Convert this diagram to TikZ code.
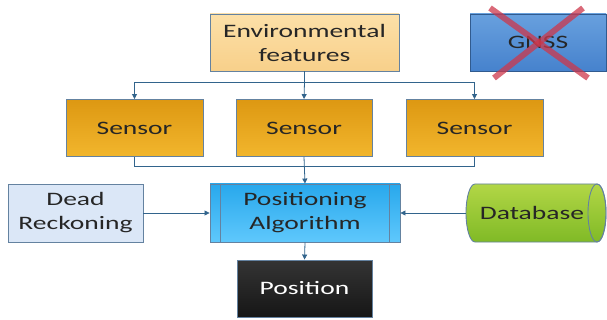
\documentclass[tikz,border=0pt]{standalone}
\usepackage{fontspec}
\setmainfont{Carlito}[FakeStretch=1.45]
\usetikzlibrary{arrows.meta}
\definecolor{lnk}{RGB}{50,100,140}
\definecolor{bdr}{RGB}{100,130,160}
\definecolor{envT}{RGB}{252,224,168}
\definecolor{envB}{RGB}{248,208,138}
\definecolor{senT}{RGB}{221,152,18}
\definecolor{senB}{RGB}{242,182,45}
\definecolor{gnT}{RGB}{104,160,222}
\definecolor{gnB}{RGB}{70,130,205}
\definecolor{paT}{RGB}{40,168,236}
\definecolor{paB}{RGB}{95,200,252}
\definecolor{drF}{RGB}{219,231,247}
\definecolor{dbT}{RGB}{178,214,70}
\definecolor{dbB}{RGB}{128,186,38}
\definecolor{posT}{RGB}{52,52,52}
\definecolor{posB}{RGB}{22,22,22}
\definecolor{xred}{RGB}{205,55,75}
\begin{document}
\begin{tikzpicture}[x=1pt,y=-1pt,
  every node/.style={font=\fontsize{19}{24}\selectfont, align=center, inner sep=0pt, text=black!85},
  box/.style={draw=bdr, line width=0.9pt, minimum width=#1, minimum height=57},
  arr/.style={draw=lnk, line width=0.8pt, -{Triangle[length=5pt,width=5pt]}},
  ln/.style={draw=lnk, line width=0.8pt}]
\useasboundingbox (0,0) rectangle (607,320);
% database cylinder body
\path[draw=bdr, line width=0.9pt, top color=dbT, bottom color=dbB]
  (475,184) -- (597,184) arc[start angle=-90, end angle=90, x radius=9, y radius=29]
  -- (475,242) arc[start angle=90, end angle=270, x radius=9, y radius=29] -- cycle;
\draw[bdr, line width=0.9pt] (597,213) ellipse[x radius=9, y radius=29];
% nodes
\node[box=189, top color=envT, bottom color=envB] (env) at (304.5,42.5) {Environmental\\features};
\node[box=136, draw=gnB!70!black, top color=gnT, bottom color=gnB] (gnss) at (538,42.5) {GNSS};
\node[box=137, top color=senT, bottom color=senB] (s1) at (134.5,128) {Sensor};
\node[box=136, top color=senT, bottom color=senB] (s2) at (304,128) {Sensor};
\node[box=137, top color=senT, bottom color=senB] (s3) at (474.5,128) {Sensor};
\node[box=190, minimum height=58, top color=paT, bottom color=paB] (pa) at (305,213) {Positioning\\Algorithm};
\node[box=135, minimum height=58, fill=drF] (dr) at (75.5,213) {Dead\\Reckoning};
\node[minimum width=132, minimum height=58] (db) at (532,213) {Database};
\node[box=135, draw=bdr, top color=posT, bottom color=posB, text=white] (pos) at (304.5,288.5) {Position};
% predefined-process lines
\draw[bdr, line width=0.9pt] ([xshift=11pt]pa.north west) -- ([xshift=11pt]pa.south west);
\draw[bdr, line width=0.9pt] ([xshift=-11pt]pa.north east) -- ([xshift=-11pt]pa.south east);
% cross over GNSS
\coordinate (xa) at (490,8);
\coordinate (xb) at (588,78);
\coordinate (xc) at (583,8);
\coordinate (xd) at (494,78);
\draw[xred, opacity=0.75, line width=6pt] (xa) -- (xb);
\draw[xred, opacity=0.75, line width=6pt] (xc) -- (xd);
% connectors
\coordinate (split) at (304.5,82);
\draw[ln] (env.south) -- (split);
\draw[arr] (split) -| (s1.north);
\draw[arr] (split) -| (s3.north);
\draw[arr] (split) -- (s2.north);
\coordinate (join) at (304,166);
\draw[ln] (s1.south) |- (join);
\draw[ln] (s3.south) |- (join);
\draw[arr] (s2.south) -- (pa.north);
\draw[arr] (dr.east) -- (pa.west);
\draw[arr] (db.west) -- (pa.east);
\draw[arr] (pa.south) -- (pos.north);
\end{tikzpicture}
\end{document}
